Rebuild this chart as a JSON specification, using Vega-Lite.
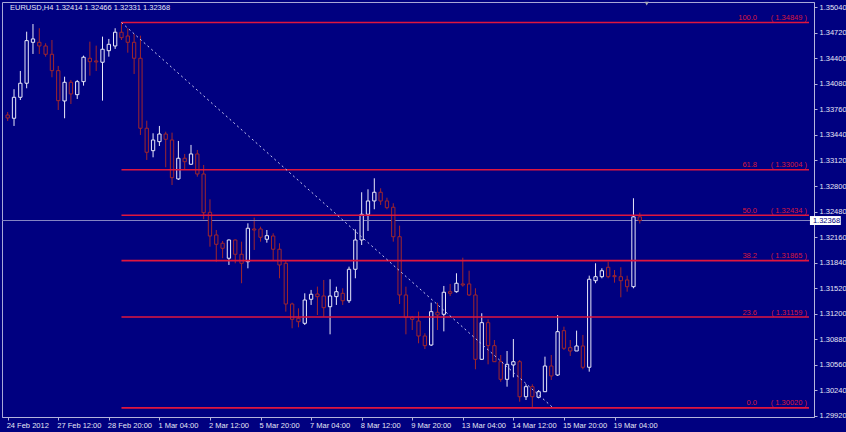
{
  "$schema": "https://vega.github.io/schema/vega-lite/v6.json",
  "width": 812,
  "height": 415,
  "autosize": {"type": "none"},
  "padding": {"left": 2, "top": 2, "right": 32, "bottom": 15},
  "background": "#000080",
  "config": {
    "view": {"stroke": "#a8a8d8", "strokeWidth": 1, "fill": "#000080"},
    "font": "Liberation Sans",
    "axis": {
      "labelFont": "Liberation Sans",
      "labelFontSize": 7.5,
      "labelColor": "#e6e6f5",
      "tickColor": "#b4b4dc",
      "domainColor": "#b4b4dc",
      "grid": false,
      "labelOverlap": false,
      "labelFlush": false,
      "labelBound": false,
      "title": null
    }
  },
  "datasets": {
    "candles": [
      {"i":0,"o":1.33690,"h":1.33728,"l":1.33615,"c":1.33653},
      {"i":1,"o":1.33649,"h":1.34013,"l":1.33553,"c":1.33912},
      {"i":2,"o":1.33912,"h":1.34242,"l":1.33878,"c":1.34088},
      {"i":3,"o":1.34088,"h":1.34734,"l":1.34025,"c":1.34622},
      {"i":4,"o":1.34601,"h":1.34830,"l":1.34455,"c":1.34643},
      {"i":5,"o":1.34601,"h":1.34777,"l":1.34455,"c":1.34555},
      {"i":6,"o":1.34555,"h":1.34589,"l":1.34421,"c":1.34451},
      {"i":7,"o":1.34451,"h":1.34630,"l":1.34163,"c":1.34246},
      {"i":8,"o":1.34246,"h":1.34305,"l":1.33753,"c":1.33870},
      {"i":9,"o":1.33866,"h":1.34170,"l":1.33649,"c":1.34100},
      {"i":10,"o":1.34100,"h":1.34129,"l":1.33828,"c":1.33954},
      {"i":11,"o":1.33945,"h":1.34129,"l":1.33891,"c":1.34108},
      {"i":12,"o":1.34108,"h":1.34434,"l":1.34058,"c":1.34414},
      {"i":13,"o":1.34401,"h":1.34609,"l":1.34183,"c":1.34358},
      {"i":14,"o":1.34367,"h":1.34559,"l":1.34242,"c":1.34355},
      {"i":15,"o":1.34351,"h":1.34672,"l":1.33870,"c":1.34514},
      {"i":16,"o":1.34496,"h":1.34643,"l":1.34421,"c":1.34576},
      {"i":17,"o":1.34555,"h":1.34777,"l":1.34518,"c":1.34727},
      {"i":18,"o":1.34727,"h":1.34849,"l":1.34630,"c":1.34659},
      {"i":19,"o":1.34680,"h":1.34777,"l":1.34471,"c":1.34601},
      {"i":20,"o":1.34601,"h":1.34705,"l":1.34204,"c":1.34401},
      {"i":21,"o":1.34401,"h":1.34684,"l":1.33440,"c":1.33524},
      {"i":22,"o":1.33524,"h":1.33619,"l":1.33127,"c":1.33223},
      {"i":23,"o":1.33243,"h":1.33461,"l":1.33160,"c":1.33377},
      {"i":24,"o":1.33356,"h":1.33553,"l":1.33302,"c":1.33452},
      {"i":25,"o":1.33452,"h":1.33481,"l":1.33035,"c":1.33386},
      {"i":26,"o":1.33377,"h":1.33469,"l":1.32813,"c":1.32905},
      {"i":27,"o":1.32889,"h":1.33365,"l":1.32876,"c":1.33148},
      {"i":28,"o":1.33148,"h":1.33202,"l":1.33001,"c":1.33105},
      {"i":29,"o":1.33073,"h":1.33315,"l":1.33064,"c":1.33202},
      {"i":30,"o":1.33202,"h":1.33252,"l":1.32917,"c":1.32951},
      {"i":31,"o":1.32951,"h":1.33064,"l":1.32384,"c":1.32466},
      {"i":32,"o":1.32471,"h":1.32634,"l":1.32040,"c":1.32174},
      {"i":33,"o":1.32187,"h":1.32249,"l":1.31852,"c":1.32070},
      {"i":34,"o":1.32083,"h":1.32112,"l":1.31895,"c":1.32020},
      {"i":35,"o":1.31895,"h":1.32130,"l":1.31811,"c":1.32124},
      {"i":36,"o":1.32124,"h":1.32130,"l":1.31832,"c":1.31945},
      {"i":37,"o":1.31945,"h":1.32103,"l":1.31582,"c":1.31832},
      {"i":38,"o":1.31852,"h":1.32333,"l":1.31769,"c":1.32271},
      {"i":39,"o":1.32262,"h":1.32404,"l":1.31999,"c":1.32249},
      {"i":40,"o":1.32262,"h":1.32291,"l":1.32103,"c":1.32158},
      {"i":41,"o":1.32133,"h":1.32249,"l":1.32090,"c":1.32178},
      {"i":42,"o":1.32174,"h":1.32208,"l":1.31873,"c":1.32008},
      {"i":43,"o":1.32008,"h":1.32083,"l":1.31644,"c":1.31811},
      {"i":44,"o":1.31832,"h":1.31860,"l":1.31226,"c":1.31322},
      {"i":45,"o":1.31322,"h":1.31338,"l":1.31018,"c":1.31130},
      {"i":46,"o":1.31143,"h":1.31268,"l":1.31030,"c":1.31100},
      {"i":47,"o":1.31080,"h":1.31456,"l":1.31059,"c":1.31372},
      {"i":48,"o":1.31381,"h":1.31498,"l":1.31310,"c":1.31444},
      {"i":49,"o":1.31447,"h":1.31540,"l":1.31184,"c":1.31414},
      {"i":50,"o":1.31422,"h":1.31623,"l":1.31163,"c":1.31276},
      {"i":51,"o":1.31288,"h":1.31632,"l":1.30942,"c":1.31422},
      {"i":52,"o":1.31414,"h":1.31539,"l":1.31310,"c":1.31476},
      {"i":53,"o":1.31456,"h":1.31519,"l":1.31310,"c":1.31363},
      {"i":54,"o":1.31363,"h":1.31790,"l":1.31335,"c":1.31757},
      {"i":55,"o":1.31757,"h":1.32258,"l":1.31644,"c":1.32124},
      {"i":56,"o":1.32124,"h":1.32722,"l":1.32061,"c":1.32446},
      {"i":57,"o":1.32446,"h":1.32759,"l":1.32237,"c":1.32613},
      {"i":58,"o":1.32613,"h":1.32897,"l":1.32509,"c":1.32722},
      {"i":59,"o":1.32722,"h":1.32772,"l":1.32563,"c":1.32613},
      {"i":60,"o":1.32613,"h":1.32654,"l":1.32509,"c":1.32529},
      {"i":61,"o":1.32534,"h":1.32584,"l":1.32103,"c":1.32165},
      {"i":62,"o":1.32165,"h":1.32303,"l":1.31322,"c":1.31435},
      {"i":63,"o":1.31435,"h":1.31539,"l":1.30942,"c":1.31155},
      {"i":64,"o":1.31155,"h":1.31172,"l":1.30996,"c":1.31130},
      {"i":65,"o":1.31109,"h":1.31226,"l":1.30830,"c":1.30921},
      {"i":66,"o":1.30921,"h":1.30955,"l":1.30758,"c":1.30800},
      {"i":67,"o":1.30808,"h":1.31338,"l":1.30796,"c":1.31226},
      {"i":68,"o":1.31218,"h":1.31338,"l":1.30996,"c":1.31184},
      {"i":69,"o":1.31193,"h":1.31548,"l":1.30979,"c":1.31469},
      {"i":70,"o":1.31476,"h":1.31573,"l":1.31422,"c":1.31456},
      {"i":71,"o":1.31476,"h":1.31707,"l":1.31464,"c":1.31582},
      {"i":72,"o":1.31573,"h":1.31902,"l":1.31539,"c":1.31560},
      {"i":73,"o":1.31573,"h":1.31739,"l":1.31422,"c":1.31435},
      {"i":74,"o":1.31435,"h":1.31519,"l":1.30504,"c":1.30629},
      {"i":75,"o":1.30629,"h":1.31206,"l":1.30620,"c":1.31088},
      {"i":76,"o":1.31088,"h":1.31130,"l":1.30566,"c":1.30800},
      {"i":77,"o":1.30800,"h":1.30871,"l":1.30595,"c":1.30599},
      {"i":78,"o":1.30599,"h":1.30683,"l":1.30348,"c":1.30378},
      {"i":79,"o":1.30378,"h":1.30733,"l":1.30286,"c":1.30566},
      {"i":80,"o":1.30558,"h":1.30883,"l":1.30403,"c":1.30599},
      {"i":81,"o":1.30599,"h":1.30620,"l":1.30098,"c":1.30160},
      {"i":82,"o":1.30160,"h":1.30316,"l":1.30119,"c":1.30286},
      {"i":83,"o":1.30286,"h":1.30316,"l":1.30020,"c":1.30160},
      {"i":84,"o":1.30153,"h":1.30244,"l":1.30140,"c":1.30223},
      {"i":85,"o":1.30223,"h":1.30662,"l":1.30219,"c":1.30545},
      {"i":86,"o":1.30545,"h":1.30683,"l":1.30370,"c":1.30420},
      {"i":87,"o":1.30432,"h":1.31184,"l":1.30420,"c":1.30975},
      {"i":88,"o":1.30988,"h":1.31038,"l":1.30746,"c":1.30767},
      {"i":89,"o":1.30775,"h":1.30871,"l":1.30671,"c":1.30733},
      {"i":90,"o":1.30733,"h":1.30988,"l":1.30733,"c":1.30796},
      {"i":91,"o":1.30796,"h":1.30934,"l":1.30504,"c":1.30529},
      {"i":92,"o":1.30529,"h":1.31677,"l":1.30474,"c":1.31632},
      {"i":93,"o":1.31614,"h":1.31832,"l":1.31582,"c":1.31664},
      {"i":94,"o":1.31664,"h":1.31769,"l":1.31644,"c":1.31739},
      {"i":95,"o":1.31782,"h":1.31852,"l":1.31644,"c":1.31664},
      {"i":96,"o":1.31677,"h":1.31748,"l":1.31589,"c":1.31664},
      {"i":97,"o":1.31664,"h":1.31782,"l":1.31406,"c":1.31614},
      {"i":98,"o":1.31623,"h":1.31677,"l":1.31476,"c":1.31539},
      {"i":99,"o":1.31539,"h":1.32647,"l":1.31519,"c":1.32414},
      {"i":100,"o":1.32414,"h":1.32466,"l":1.32331,"c":1.32368}
    ],
    "fib": [
      {"lvl":"100.0","p":1.34849,"lbl":"( 1.34849 )"},
      {"lvl":"61.8","p":1.33004,"lbl":"( 1.33004 )"},
      {"lvl":"50.0","p":1.32434,"lbl":"( 1.32434 )"},
      {"lvl":"38.2","p":1.31865,"lbl":"( 1.31865 )"},
      {"lvl":"23.6","p":1.31159,"lbl":"( 1.31159 )"},
      {"lvl":"0.0","p":1.30020,"lbl":"( 1.30020 )"}
    ],
    "trend": [
      {"i":18,"p":1.34849},
      {"i":86.3,"p":1.30020}
    ]
  },
  "layer": [
    {
      "data": {"name": "candles"},
      "mark": {"type": "rule", "strokeWidth": 1},
      "encoding": {
        "x": {
          "field": "i", "type": "quantitative",
          "scale": {"domain": [-0.11, 126.77], "nice": false, "zero": false},
          "axis": {
            "orient": "bottom",
            "title": null,
            "values": [0, 8, 16, 24, 32, 40, 48, 56, 64, 72, 80, 88, 96],
            "tickCount": 40,
            "labelExpr": "['24 Feb 2012','27 Feb 12:00','28 Feb 20:00','1 Mar 04:00','2 Mar 12:00','5 Mar 20:00','7 Mar 04:00','8 Mar 12:00','9 Mar 20:00','13 Mar 04:00','14 Mar 12:00','15 Mar 20:00','19 Mar 04:00'][round(datum.value / 8)]",
            "labelAlign": "left",
            "labelBaseline": "top",
            "labelOffset": -1.5,
            "labelPadding": 1,
            "labelOverlap": false,
            "tickSize": 3
          }
        },
        "y": {
          "field": "l", "type": "quantitative",
          "scale": {"domain": [1.29906, 1.35106], "nice": false, "zero": false},
          "axis": {
            "orient": "right",
            "title": null,
            "values": [1.2992, 1.3024, 1.3056, 1.3088, 1.312, 1.3152, 1.3184, 1.3216, 1.3248, 1.328, 1.3312, 1.3344, 1.3376, 1.3408, 1.344, 1.3472, 1.3504],
            "tickCount": 40,
            "format": ".5f",
            "labelBaseline": "middle",
            "labelPadding": 2,
            "labelOverlap": false,
            "labelBound": false,
            "tickSize": 3
          }
        },
        "y2": {"field": "h"},
        "color": {"condition": {"test": "datum.c >= datum.o", "value": "#e8e8f8"}, "value": "#a0262c"}
      }
    },
    {
      "data": {"values": [{}]},
      "mark": {"type": "rule", "color": "#8484c4", "strokeWidth": 1},
      "encoding": {
        "y": {"datum": 1.32368, "type": "quantitative"}
      }
    },
    {
      "data": {"name": "candles"},
      "mark": {"type": "bar", "width": 3.3, "fill": "#000080", "strokeWidth": 1},
      "encoding": {
        "x": {"field": "i", "type": "quantitative"},
        "y": {"field": "o", "type": "quantitative"},
        "y2": {"field": "c"},
        "stroke": {"condition": {"test": "datum.c >= datum.o", "value": "#e8e8f8"}, "value": "#a0262c"}
      }
    },
    {
      "data": {"name": "fib"},
      "mark": {"type": "rule", "color": "#e0163e", "strokeWidth": 1.6},
      "encoding": {
        "x": {"datum": 18, "type": "quantitative"},
        "x2": {"datum": 126.77},
        "y": {"field": "p", "type": "quantitative"}
      }
    },
    {
      "data": {"name": "fib"},
      "mark": {"type": "text", "color": "#d8183c", "font": "Liberation Sans", "fontSize": 7.5, "align": "right", "baseline": "alphabetic", "dx": -2, "dy": -2.5},
      "encoding": {
        "x": {"datum": 126.77, "type": "quantitative"},
        "y": {"field": "p", "type": "quantitative"},
        "text": {"field": "lbl"}
      }
    },
    {
      "data": {"name": "fib"},
      "mark": {"type": "text", "color": "#d8183c", "font": "Liberation Sans", "fontSize": 7.5, "align": "right", "baseline": "alphabetic", "dx": -52, "dy": -2.5},
      "encoding": {
        "x": {"datum": 126.77, "type": "quantitative"},
        "y": {"field": "p", "type": "quantitative"},
        "text": {"field": "lvl"}
      }
    },
    {
      "data": {"name": "trend"},
      "mark": {"type": "line", "color": "#c8c8f0", "strokeWidth": 1, "strokeDash": [2, 3]},
      "encoding": {
        "x": {"field": "i", "type": "quantitative"},
        "y": {"field": "p", "type": "quantitative"}
      }
    },
    {
      "data": {"values": [{}]},
      "mark": {"type": "rect", "fill": "#ffffff", "clip": false},
      "encoding": {
        "x": {"datum": 126.92, "type": "quantitative"},
        "x2": {"datum": 131.8},
        "y": {"datum": 1.32312, "type": "quantitative"},
        "y2": {"datum": 1.32424}
      }
    },
    {
      "data": {"values": [{}]},
      "mark": {"type": "text", "color": "#000080", "font": "Liberation Sans", "fontSize": 7.5, "align": "left", "baseline": "middle", "clip": false, "dx": 3},
      "encoding": {
        "x": {"datum": 126.92, "type": "quantitative"},
        "y": {"datum": 1.32368, "type": "quantitative"},
        "text": {"value": "1.32368"}
      }
    },
    {
      "data": {"values": [{}]},
      "mark": {"type": "text", "color": "#e6e6f5", "font": "Liberation Sans", "fontSize": 7.5, "align": "left", "baseline": "middle"},
      "encoding": {
        "x": {"datum": 0.36, "type": "quantitative"},
        "y": {"datum": 1.35031, "type": "quantitative"},
        "text": {"value": "EURUSD,H4  1.32414 1.32466 1.32331 1.32368"}
      }
    },
    {
      "data": {"values": [{}]},
      "mark": {"type": "point", "shape": "triangle-down", "filled": true, "color": "#a8a8b0", "size": 18, "opacity": 1},
      "encoding": {
        "x": {"datum": 101.1, "type": "quantitative"},
        "y": {"datum": 1.35086, "type": "quantitative"}
      }
    }
  ]
}
